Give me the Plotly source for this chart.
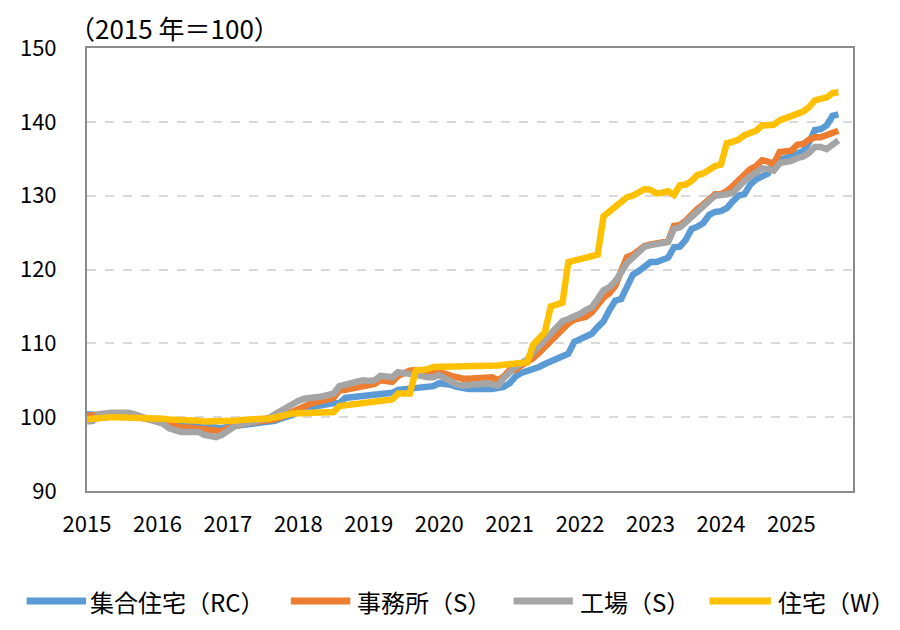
import plotly.graph_objects as go

# monthly index, Jan 2015 .. Sep 2025
year_labels = ["2015", "2016", "2017", "2018", "2019", "2020", "2021", "2022", "2023", "2024", "2025"]

rc_apartment = [
    100.4, 100.3, 100.3, 100.4, 100.4, 100.4, 100.3, 100.2, 100.1, 100.0, 99.9, 99.8,
    99.7, 99.5, 99.3, 99.1, 99.0, 98.9, 98.8, 98.7, 98.6, 98.5, 98.5, 98.5,
    98.7, 98.8, 98.9, 99.0, 99.1, 99.2, 99.2, 99.3, 99.5, 99.8, 100.0, 100.3,
    100.7, 101.0, 101.3, 101.5, 101.6, 101.8, 101.9, 101.9, 102.6, 102.7, 102.8, 102.9,
    103.0, 103.1, 103.2, 103.2, 103.3, 103.7, 103.8, 103.8, 103.9, 104.0, 104.1, 104.2,
    104.6, 104.6, 104.4, 104.1, 103.9, 103.8, 103.8, 103.7, 103.8, 103.8, 103.9, 104.1,
    104.6, 105.5, 106.0, 106.2, 106.4, 106.8, 107.2, 107.5, 107.9, 108.3, 108.6, 110.2,
    110.5, 110.8, 111.3, 112.2, 113.0, 114.5, 115.8, 116.0, 117.5, 119.3, 119.8, 120.5,
    121.0, 121.0, 121.3, 121.6, 123.0, 123.1, 124.0, 125.5, 125.8, 126.3, 127.4, 127.8,
    127.9, 128.3, 129.2, 130.0, 130.2, 131.5, 132.2, 132.5, 133.0, 134.5, 134.8, 135.2,
    135.4, 135.8, 136.0, 137.2, 138.9, 139.0, 139.5, 140.8, 141.0,
]

s_office = [
    100.2, 100.3, 100.4, 100.5, 100.5, 100.5, 100.4, 100.3, 100.1, 100.0, 99.8, 99.6,
    99.4, 99.1, 98.9, 98.7, 98.6, 98.6, 98.5, 98.4, 98.3, 98.1, 98.0, 98.1,
    98.5, 98.8, 99.0, 99.2, 99.3, 99.4, 99.4, 99.5, 99.7, 100.0, 100.4, 100.8,
    101.0, 101.4, 101.8, 102.0, 102.1, 102.4, 102.6, 103.6, 103.7, 103.9, 104.0, 104.1,
    104.3, 104.5, 105.0, 104.9, 104.8, 105.6, 106.0, 106.3, 106.4, 106.3, 106.4, 106.3,
    106.2, 105.9, 105.6, 105.3, 105.2, 105.2, 105.3, 105.3, 105.4, 105.4, 105.0, 105.5,
    106.4, 106.4, 107.0, 107.4, 108.0, 108.7, 109.5, 110.2, 111.0, 112.0, 112.7, 113.2,
    113.4, 113.6, 114.2, 115.3, 116.2, 116.8, 117.8, 119.8, 121.7, 122.0, 122.6, 123.2,
    123.4, 123.5, 123.6, 123.8, 125.9, 126.0, 126.6, 127.5, 128.2, 128.8, 129.6, 130.2,
    130.2, 130.6, 131.3, 132.0, 132.8, 133.6, 134.0, 134.8, 134.6, 134.3, 135.9, 136.0,
    136.1, 136.9, 137.0, 137.6, 137.9, 137.9, 138.2, 138.7, 138.8,
]

s_factory = [
    99.4, 99.5, 100.4, 100.6, 100.6, 100.6, 100.7, 100.6, 100.4, 100.1, 99.9, 99.7,
    99.4, 99.1, 98.5, 98.2, 98.0, 98.0, 98.0, 98.0, 97.6, 97.4, 97.3, 97.6,
    98.2, 98.7, 99.0, 99.2, 99.3, 99.5, 99.6, 99.9, 100.4, 100.9, 101.4, 101.8,
    102.2, 102.5, 102.7, 102.7, 102.8, 102.9, 103.2, 104.2, 104.4, 104.6, 104.8, 105.0,
    104.9, 105.0, 105.6, 105.5, 105.4, 106.1, 106.0, 106.0, 105.8, 105.6, 105.4, 105.4,
    105.7, 105.3, 104.7, 104.4, 104.3, 104.3, 104.4, 104.5, 104.6, 104.5, 104.3, 105.3,
    106.2, 106.8, 107.3, 107.8, 108.8, 109.6, 110.3, 111.2, 112.2, 113.0, 113.3, 113.6,
    114.0, 114.5, 114.9, 116.0, 117.2, 117.6, 118.4, 119.6, 120.9, 121.6, 122.5, 123.1,
    123.3, 123.4, 123.5, 123.7, 125.5, 125.7, 126.4, 127.2, 128.0, 128.5, 129.3, 130.0,
    130.0, 130.2, 130.4, 131.3, 132.0, 132.6, 133.2, 133.7, 133.6, 133.4, 134.4, 134.5,
    134.7, 135.1, 135.3, 135.8, 136.6, 136.6, 136.3, 136.9, 137.5,
]

w_house = [
    99.7, 99.8, 100.0, 100.0, 100.0, 100.0, 100.0, 100.0, 100.0, 100.0, 99.9, 99.9,
    99.8, 99.8, 99.7, 99.7, 99.6, 99.6, 99.5, 99.5, 99.4, 99.4, 99.3, 99.3,
    99.4, 99.5, 99.6, 99.7, 99.7, 99.8, 99.8, 99.8, 99.9, 100.0, 100.3, 100.5,
    100.5, 100.5, 100.6, 100.6, 100.7, 100.7, 100.7, 101.5, 101.6, 101.7, 101.8, 101.9,
    101.9, 102.0, 102.1, 102.3, 102.4, 103.2, 103.2, 103.2, 106.3, 106.3, 106.5, 106.8,
    106.8, 106.8, 106.8, 106.8, 106.8, 106.8, 106.9, 106.9, 106.9, 107.0, 107.0, 107.1,
    107.2, 107.3, 107.3, 107.4, 109.8, 110.6, 111.5, 115.0, 115.3, 115.5, 121.0, 121.2,
    121.4, 121.6, 121.8, 122.0, 127.2, 127.8, 128.6, 129.2, 129.8, 130.0, 130.5, 130.9,
    130.8, 130.3, 130.4, 130.6, 130.1, 131.4, 131.5, 132.0, 132.8, 133.0, 133.5, 134.0,
    134.2, 137.1, 137.3, 137.6, 138.2, 138.5, 138.8, 139.5, 139.5, 139.6, 140.2, 140.5,
    140.6, 141.0, 141.4, 142.0, 142.9, 143.1, 143.3, 143.9, 144.0,
]

series_names = ["集合住宅（RC）", "事務所（S）", "工場（S）", "住宅（W）"]
series_colors = ["#5B9BD5", "#ED7D31", "#A5A5A5", "#FFC000"]
series_values = [rc_apartment, s_office, s_factory, w_house]

months = list(range(len(rc_apartment)))
tick_positions = [12 * k for k in range(len(year_labels))]

FONT = "Noto Sans CJK JP, Noto Sans, sans-serif"

# page has a body margin; margins compensate so the plot box sits near 79..853 x 48..491
ML, MT, MR, MB = 71, 40, 55, 147
PW = 900 - ML - MR
PH = 630 - MT - MB
ORIGIN_X = ML + 8
BOTTOM_Y = MT + 8 + PH

fig = go.Figure()
for name, color, vals in zip(series_names, series_colors, series_values):
    fig.add_trace(go.Scatter(
        x=months, y=vals, name=name, mode="lines",
        line=dict(color=color, width=6.5),
    ))

# custom legend row (line sample + label), positions in page pixels
legend_line_px = [(18, 78), (285, 345), (510, 570), (708, 770)]
legend_text_px = [80, 350, 575, 775]
legend_y = -(601 - BOTTOM_Y) / PH


def px_to_paper(px):
    return (px - ORIGIN_X) / PW


shapes = []
annotations = []
for name, color, (x0, x1), tx in zip(series_names, series_colors, legend_line_px, legend_text_px):
    shapes.append(dict(
        type="line", xref="paper", yref="paper",
        x0=px_to_paper(x0), x1=px_to_paper(x1), y0=legend_y, y1=legend_y,
        line=dict(color=color, width=7),
    ))
    annotations.append(dict(
        text=name, xref="paper", yref="paper", x=px_to_paper(tx), y=legend_y,
        xanchor="left", yanchor="middle", showarrow=False,
        font=dict(size=24, family=FONT, color="black"),
    ))

annotations.append(dict(
    text="（2015 年＝100）", xref="paper", yref="paper", x=0, y=1 + 21 / PH,
    xanchor="left", yanchor="middle", showarrow=False, xshift=-20,
    font=dict(size=26, family=FONT, color="black"),
))

fig.update_layout(
    width=900, height=630,
    margin=dict(l=ML, r=MR, t=MT, b=MB),
    paper_bgcolor="white", plot_bgcolor="white",
    font=dict(family=FONT, size=22, color="black"),
    showlegend=False,
    xaxis=dict(
        range=[0, 130.5], tickmode="array", tickvals=tick_positions, ticktext=year_labels,
        showgrid=False, zeroline=False, showline=True, linecolor="#8C8C8C", linewidth=2,
        mirror=True, ticks="", ticklabelstandoff=13,
    ),
    yaxis=dict(
        range=[90, 150], dtick=10, showgrid=True, gridcolor="#D9D9D9", gridwidth=2,
        griddash="dash", zeroline=False, showline=True, linecolor="#8C8C8C", linewidth=2,
        mirror=True, ticks="", ticklabelstandoff=24,
    ),
    shapes=shapes,
    annotations=annotations,
)

fig.write_html("out.html")
